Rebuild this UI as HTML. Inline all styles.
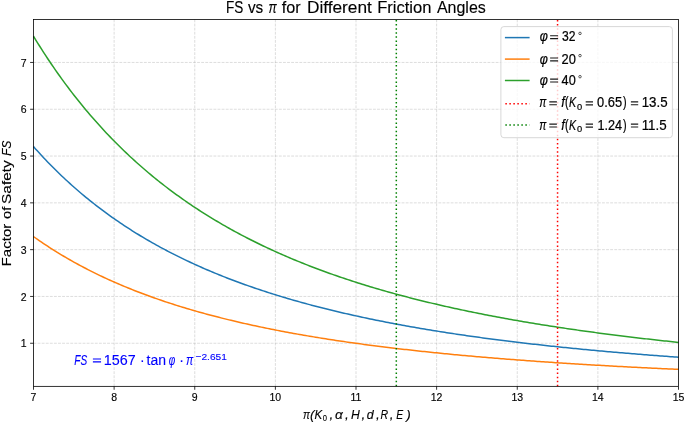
<!DOCTYPE html>
<html><head><meta charset="utf-8"><style>
html,body{margin:0;padding:0;background:#fff;}
svg{display:block;will-change:transform;}
text{font-family:"Liberation Sans",sans-serif;fill:#000;stroke:#000;stroke-width:0.22px;}
.tk{stroke-width:0.15px;}
.ti{stroke-width:0.12px;}
.lb{stroke-width:0.15px;}
.g{stroke:#b0b0b0;stroke-opacity:0.55;stroke-width:0.8;stroke-dasharray:2.85 1.24;}
</style></head><body>
<svg width="685" height="423" viewBox="0 0 685 423">
<line x1="114.12" y1="386.35" x2="114.12" y2="19.5" class="g"/>
<line x1="194.75" y1="386.35" x2="194.75" y2="19.5" class="g"/>
<line x1="275.38" y1="386.35" x2="275.38" y2="19.5" class="g"/>
<line x1="356.00" y1="386.35" x2="356.00" y2="19.5" class="g"/>
<line x1="436.62" y1="386.35" x2="436.62" y2="19.5" class="g"/>
<line x1="517.25" y1="386.35" x2="517.25" y2="19.5" class="g"/>
<line x1="597.88" y1="386.35" x2="597.88" y2="19.5" class="g"/>
<line x1="33.5" y1="343.25" x2="678.5" y2="343.25" class="g"/>
<line x1="33.5" y1="296.45" x2="678.5" y2="296.45" class="g"/>
<line x1="33.5" y1="249.65" x2="678.5" y2="249.65" class="g"/>
<line x1="33.5" y1="202.85" x2="678.5" y2="202.85" class="g"/>
<line x1="33.5" y1="156.05" x2="678.5" y2="156.05" class="g"/>
<line x1="33.5" y1="109.25" x2="678.5" y2="109.25" class="g"/>
<line x1="33.5" y1="62.45" x2="678.5" y2="62.45" class="g"/>
<polyline points="33.50,146.61 35.52,148.88 37.53,151.12 39.55,153.33 41.56,155.52 43.58,157.68 45.59,159.81 47.61,161.91 49.63,163.99 51.64,166.04 53.66,168.07 55.67,170.07 57.69,172.04 59.70,174.00 61.72,175.92 63.73,177.83 65.75,179.71 67.77,181.56 69.78,183.40 71.80,185.21 73.81,187.00 75.83,188.77 77.84,190.52 79.86,192.25 81.87,193.95 83.89,195.64 85.91,197.31 87.92,198.95 89.94,200.58 91.95,202.19 93.97,203.78 95.98,205.35 98.00,206.90 100.02,208.44 102.03,209.96 104.05,211.46 106.06,212.94 108.08,214.40 110.09,215.85 112.11,217.29 114.12,218.70 116.14,220.10 118.16,221.49 120.17,222.86 122.19,224.21 124.20,225.55 126.22,226.87 128.23,228.18 130.25,229.48 132.27,230.76 134.28,232.02 136.30,233.27 138.31,234.51 140.33,235.74 142.34,236.95 144.36,238.15 146.38,239.34 148.39,240.51 150.41,241.67 152.42,242.82 154.44,243.95 156.45,245.08 158.47,246.19 160.48,247.29 162.50,248.38 164.52,249.46 166.53,250.52 168.55,251.58 170.56,252.62 172.58,253.66 174.59,254.68 176.61,255.69 178.63,256.69 180.64,257.68 182.66,258.66 184.67,259.64 186.69,260.60 188.70,261.55 190.72,262.49 192.73,263.42 194.75,264.35 196.77,265.26 198.78,266.16 200.80,267.06 202.81,267.95 204.83,268.82 206.84,269.69 208.86,270.55 210.87,271.41 212.89,272.25 214.91,273.09 216.92,273.91 218.94,274.73 220.95,275.54 222.97,276.35 224.98,277.14 227.00,277.93 229.02,278.71 231.03,279.48 233.05,280.25 235.06,281.01 237.08,281.76 239.09,282.50 241.11,283.24 243.12,283.97 245.14,284.69 247.16,285.41 249.17,286.12 251.19,286.82 253.20,287.52 255.22,288.21 257.23,288.89 259.25,289.57 261.27,290.24 263.28,290.91 265.30,291.56 267.31,292.22 269.33,292.86 271.34,293.50 273.36,294.14 275.38,294.77 277.39,295.39 279.41,296.01 281.42,296.62 283.44,297.23 285.45,297.83 287.47,298.43 289.48,299.02 291.50,299.60 293.52,300.18 295.53,300.76 297.55,301.33 299.56,301.90 301.58,302.46 303.59,303.01 305.61,303.56 307.63,304.11 309.64,304.65 311.66,305.18 313.67,305.72 315.69,306.24 317.70,306.77 319.72,307.28 321.73,307.80 323.75,308.31 325.77,308.81 327.78,309.31 329.80,309.81 331.81,310.30 333.83,310.79 335.84,311.27 337.86,311.75 339.88,312.23 341.89,312.70 343.91,313.17 345.92,313.63 347.94,314.09 349.95,314.55 351.97,315.00 353.98,315.45 356.00,315.89 358.02,316.34 360.03,316.77 362.05,317.21 364.06,317.64 366.08,318.07 368.09,318.49 370.11,318.91 372.12,319.33 374.14,319.74 376.16,320.15 378.17,320.56 380.19,320.96 382.20,321.36 384.22,321.76 386.23,322.15 388.25,322.54 390.27,322.93 392.28,323.32 394.30,323.70 396.31,324.08 398.33,324.45 400.34,324.82 402.36,325.19 404.37,325.56 406.39,325.93 408.41,326.29 410.42,326.65 412.44,327.00 414.45,327.35 416.47,327.70 418.48,328.05 420.50,328.40 422.52,328.74 424.53,329.08 426.55,329.42 428.56,329.75 430.58,330.08 432.59,330.41 434.61,330.74 436.62,331.06 438.64,331.38 440.66,331.70 442.67,332.02 444.69,332.34 446.70,332.65 448.72,332.96 450.73,333.27 452.75,333.57 454.77,333.88 456.78,334.18 458.80,334.47 460.81,334.77 462.83,335.07 464.84,335.36 466.86,335.65 468.88,335.94 470.89,336.22 472.91,336.51 474.92,336.79 476.94,337.07 478.95,337.35 480.97,337.62 482.98,337.89 485.00,338.17 487.02,338.44 489.03,338.70 491.05,338.97 493.06,339.23 495.08,339.50 497.09,339.76 499.11,340.01 501.13,340.27 503.14,340.53 505.16,340.78 507.17,341.03 509.19,341.28 511.20,341.53 513.22,341.77 515.23,342.02 517.25,342.26 519.27,342.50 521.28,342.74 523.30,342.98 525.31,343.21 527.33,343.45 529.34,343.68 531.36,343.91 533.38,344.14 535.39,344.37 537.41,344.60 539.42,344.82 541.44,345.04 543.45,345.27 545.47,345.49 547.48,345.70 549.50,345.92 551.52,346.14 553.53,346.35 555.55,346.56 557.56,346.78 559.58,346.99 561.59,347.19 563.61,347.40 565.62,347.61 567.64,347.81 569.66,348.02 571.67,348.22 573.69,348.42 575.70,348.62 577.72,348.81 579.73,349.01 581.75,349.21 583.77,349.40 585.78,349.59 587.80,349.78 589.81,349.97 591.83,350.16 593.84,350.35 595.86,350.54 597.88,350.72 599.89,350.91 601.91,351.09 603.92,351.27 605.94,351.45 607.95,351.63 609.97,351.81 611.98,351.99 614.00,352.16 616.02,352.34 618.03,352.51 620.05,352.68 622.06,352.86 624.08,353.03 626.09,353.20 628.11,353.36 630.12,353.53 632.14,353.70 634.16,353.86 636.17,354.03 638.19,354.19 640.20,354.35 642.22,354.51 644.23,354.67 646.25,354.83 648.27,354.99 650.28,355.15 652.30,355.30 654.31,355.46 656.33,355.61 658.34,355.77 660.36,355.92 662.38,356.07 664.39,356.22 666.41,356.37 668.42,356.52 670.44,356.67 672.45,356.81 674.47,356.96 676.48,357.10 678.50,357.25" fill="none" stroke="#1f77b4" stroke-width="1.5" stroke-linejoin="round"/>
<polyline points="33.50,236.58 35.52,238.01 37.53,239.43 39.55,240.82 41.56,242.20 43.58,243.56 45.59,244.90 47.61,246.23 49.63,247.54 51.64,248.83 53.66,250.11 55.67,251.37 57.69,252.62 59.70,253.85 61.72,255.06 63.73,256.26 65.75,257.45 67.77,258.62 69.78,259.77 71.80,260.92 73.81,262.05 75.83,263.16 77.84,264.26 79.86,265.35 81.87,266.43 83.89,267.49 85.91,268.54 87.92,269.58 89.94,270.61 91.95,271.62 93.97,272.62 95.98,273.61 98.00,274.59 100.02,275.56 102.03,276.52 104.05,277.46 106.06,278.40 108.08,279.32 110.09,280.23 112.11,281.14 114.12,282.03 116.14,282.91 118.16,283.78 120.17,284.65 122.19,285.50 124.20,286.35 126.22,287.18 128.23,288.01 130.25,288.82 132.27,289.63 134.28,290.43 136.30,291.22 138.31,292.00 140.33,292.77 142.34,293.53 144.36,294.29 146.38,295.04 148.39,295.78 150.41,296.51 152.42,297.23 154.44,297.95 156.45,298.66 158.47,299.36 160.48,300.05 162.50,300.74 164.52,301.42 166.53,302.09 168.55,302.76 170.56,303.41 172.58,304.07 174.59,304.71 176.61,305.35 178.63,305.98 180.64,306.60 182.66,307.22 184.67,307.84 186.69,308.44 188.70,309.04 190.72,309.63 192.73,310.22 194.75,310.80 196.77,311.38 198.78,311.95 200.80,312.52 202.81,313.07 204.83,313.63 206.84,314.18 208.86,314.72 210.87,315.26 212.89,315.79 214.91,316.31 216.92,316.84 218.94,317.35 220.95,317.86 222.97,318.37 224.98,318.87 227.00,319.37 229.02,319.86 231.03,320.35 233.05,320.83 235.06,321.31 237.08,321.78 239.09,322.25 241.11,322.72 243.12,323.18 245.14,323.63 247.16,324.08 249.17,324.53 251.19,324.97 253.20,325.41 255.22,325.85 257.23,326.28 259.25,326.71 261.27,327.13 263.28,327.55 265.30,327.96 267.31,328.37 269.33,328.78 271.34,329.19 273.36,329.59 275.38,329.98 277.39,330.38 279.41,330.77 281.42,331.15 283.44,331.53 285.45,331.91 287.47,332.29 289.48,332.66 291.50,333.03 293.52,333.40 295.53,333.76 297.55,334.12 299.56,334.48 301.58,334.83 303.59,335.18 305.61,335.53 307.63,335.87 309.64,336.21 311.66,336.55 313.67,336.88 315.69,337.22 317.70,337.55 319.72,337.87 321.73,338.20 323.75,338.52 325.77,338.84 327.78,339.15 329.80,339.46 331.81,339.77 333.83,340.08 335.84,340.39 337.86,340.69 339.88,340.99 341.89,341.29 343.91,341.58 345.92,341.87 347.94,342.16 349.95,342.45 351.97,342.74 353.98,343.02 356.00,343.30 358.02,343.58 360.03,343.86 362.05,344.13 364.06,344.40 366.08,344.67 368.09,344.94 370.11,345.20 372.12,345.46 374.14,345.73 376.16,345.98 378.17,346.24 380.19,346.50 382.20,346.75 384.22,347.00 386.23,347.25 388.25,347.49 390.27,347.74 392.28,347.98 394.30,348.22 396.31,348.46 398.33,348.70 400.34,348.93 402.36,349.16 404.37,349.40 406.39,349.62 408.41,349.85 410.42,350.08 412.44,350.30 414.45,350.53 416.47,350.75 418.48,350.97 420.50,351.18 422.52,351.40 424.53,351.61 426.55,351.83 428.56,352.04 430.58,352.25 432.59,352.45 434.61,352.66 436.62,352.86 438.64,353.07 440.66,353.27 442.67,353.47 444.69,353.67 446.70,353.86 448.72,354.06 450.73,354.25 452.75,354.45 454.77,354.64 456.78,354.83 458.80,355.01 460.81,355.20 462.83,355.39 464.84,355.57 466.86,355.75 468.88,355.94 470.89,356.12 472.91,356.29 474.92,356.47 476.94,356.65 478.95,356.82 480.97,357.00 482.98,357.17 485.00,357.34 487.02,357.51 489.03,357.68 491.05,357.85 493.06,358.01 495.08,358.18 497.09,358.34 499.11,358.51 501.13,358.67 503.14,358.83 505.16,358.99 507.17,359.15 509.19,359.30 511.20,359.46 513.22,359.62 515.23,359.77 517.25,359.92 519.27,360.07 521.28,360.23 523.30,360.37 525.31,360.52 527.33,360.67 529.34,360.82 531.36,360.96 533.38,361.11 535.39,361.25 537.41,361.39 539.42,361.54 541.44,361.68 543.45,361.82 545.47,361.96 547.48,362.09 549.50,362.23 551.52,362.37 553.53,362.50 555.55,362.64 557.56,362.77 559.58,362.90 561.59,363.03 563.61,363.16 565.62,363.29 567.64,363.42 569.66,363.55 571.67,363.68 573.69,363.80 575.70,363.93 577.72,364.05 579.73,364.18 581.75,364.30 583.77,364.42 585.78,364.55 587.80,364.67 589.81,364.79 591.83,364.90 593.84,365.02 595.86,365.14 597.88,365.26 599.89,365.37 601.91,365.49 603.92,365.60 605.94,365.72 607.95,365.83 609.97,365.94 611.98,366.05 614.00,366.17 616.02,366.28 618.03,366.39 620.05,366.49 622.06,366.60 624.08,366.71 626.09,366.82 628.11,366.92 630.12,367.03 632.14,367.13 634.16,367.24 636.17,367.34 638.19,367.44 640.20,367.55 642.22,367.65 644.23,367.75 646.25,367.85 648.27,367.95 650.28,368.05 652.30,368.15 654.31,368.24 656.33,368.34 658.34,368.44 660.36,368.53 662.38,368.63 664.39,368.72 666.41,368.82 668.42,368.91 670.44,369.00 672.45,369.10 674.47,369.19 676.48,369.28 678.50,369.37" fill="none" stroke="#ff7f0e" stroke-width="1.5" stroke-linejoin="round"/>
<polyline points="33.50,36.24 35.52,39.54 37.53,42.80 39.55,46.02 41.56,49.19 43.58,52.33 45.59,55.43 47.61,58.48 49.63,61.50 51.64,64.48 53.66,67.43 55.67,70.34 57.69,73.21 59.70,76.04 61.72,78.85 63.73,81.61 65.75,84.35 67.77,87.05 69.78,89.71 71.80,92.35 73.81,94.95 75.83,97.52 77.84,100.06 79.86,102.57 81.87,105.05 83.89,107.50 85.91,109.93 87.92,112.32 89.94,114.68 91.95,117.02 93.97,119.33 95.98,121.61 98.00,123.87 100.02,126.10 102.03,128.31 104.05,130.49 106.06,132.64 108.08,134.77 110.09,136.88 112.11,138.96 114.12,141.02 116.14,143.05 118.16,145.07 120.17,147.06 122.19,149.02 124.20,150.97 126.22,152.89 128.23,154.80 130.25,156.68 132.27,158.54 134.28,160.38 136.30,162.20 138.31,164.00 140.33,165.78 142.34,167.54 144.36,169.28 146.38,171.01 148.39,172.71 150.41,174.40 152.42,176.07 154.44,177.72 156.45,179.35 158.47,180.97 160.48,182.57 162.50,184.15 164.52,185.72 166.53,187.27 168.55,188.80 170.56,190.32 172.58,191.82 174.59,193.31 176.61,194.78 178.63,196.23 180.64,197.67 182.66,199.10 184.67,200.51 186.69,201.91 188.70,203.29 190.72,204.66 192.73,206.01 194.75,207.36 196.77,208.68 198.78,210.00 200.80,211.30 202.81,212.59 204.83,213.87 206.84,215.13 208.86,216.38 210.87,217.62 212.89,218.84 214.91,220.06 216.92,221.26 218.94,222.45 220.95,223.63 222.97,224.80 224.98,225.95 227.00,227.10 229.02,228.23 231.03,229.36 233.05,230.47 235.06,231.57 237.08,232.66 239.09,233.75 241.11,234.82 243.12,235.88 245.14,236.93 247.16,237.97 249.17,239.00 251.19,240.02 253.20,241.03 255.22,242.04 257.23,243.03 259.25,244.02 261.27,244.99 263.28,245.96 265.30,246.91 267.31,247.86 269.33,248.80 271.34,249.73 273.36,250.66 275.38,251.57 277.39,252.48 279.41,253.38 281.42,254.27 283.44,255.15 285.45,256.02 287.47,256.89 289.48,257.75 291.50,258.60 293.52,259.44 295.53,260.28 297.55,261.11 299.56,261.93 301.58,262.74 303.59,263.55 305.61,264.35 307.63,265.14 309.64,265.93 311.66,266.71 313.67,267.48 315.69,268.25 317.70,269.01 319.72,269.76 321.73,270.51 323.75,271.25 325.77,271.98 327.78,272.71 329.80,273.43 331.81,274.15 333.83,274.85 335.84,275.56 337.86,276.25 339.88,276.95 341.89,277.63 343.91,278.31 345.92,278.99 347.94,279.65 349.95,280.32 351.97,280.98 353.98,281.63 356.00,282.27 358.02,282.92 360.03,283.55 362.05,284.18 364.06,284.81 366.08,285.43 368.09,286.05 370.11,286.66 372.12,287.26 374.14,287.86 376.16,288.46 378.17,289.05 380.19,289.64 382.20,290.22 384.22,290.80 386.23,291.37 388.25,291.94 390.27,292.50 392.28,293.06 394.30,293.62 396.31,294.17 398.33,294.71 400.34,295.25 402.36,295.79 404.37,296.32 406.39,296.85 408.41,297.38 410.42,297.90 412.44,298.42 414.45,298.93 416.47,299.44 418.48,299.94 420.50,300.45 422.52,300.94 424.53,301.44 426.55,301.93 428.56,302.41 430.58,302.89 432.59,303.37 434.61,303.85 436.62,304.32 438.64,304.79 440.66,305.25 442.67,305.71 444.69,306.17 446.70,306.62 448.72,307.08 450.73,307.52 452.75,307.97 454.77,308.41 456.78,308.84 458.80,309.28 460.81,309.71 462.83,310.14 464.84,310.56 466.86,310.98 468.88,311.40 470.89,311.82 472.91,312.23 474.92,312.64 476.94,313.05 478.95,313.45 480.97,313.85 482.98,314.25 485.00,314.64 487.02,315.04 489.03,315.43 491.05,315.81 493.06,316.20 495.08,316.58 497.09,316.95 499.11,317.33 501.13,317.70 503.14,318.07 505.16,318.44 507.17,318.81 509.19,319.17 511.20,319.53 513.22,319.89 515.23,320.24 517.25,320.59 519.27,320.94 521.28,321.29 523.30,321.64 525.31,321.98 527.33,322.32 529.34,322.66 531.36,322.99 533.38,323.33 535.39,323.66 537.41,323.99 539.42,324.31 541.44,324.64 543.45,324.96 545.47,325.28 547.48,325.60 549.50,325.91 551.52,326.23 553.53,326.54 555.55,326.85 557.56,327.16 559.58,327.46 561.59,327.77 563.61,328.07 565.62,328.37 567.64,328.66 569.66,328.96 571.67,329.25 573.69,329.54 575.70,329.83 577.72,330.12 579.73,330.41 581.75,330.69 583.77,330.97 585.78,331.25 587.80,331.53 589.81,331.81 591.83,332.08 593.84,332.35 595.86,332.62 597.88,332.89 599.89,333.16 601.91,333.43 603.92,333.69 605.94,333.95 607.95,334.21 609.97,334.47 611.98,334.73 614.00,334.99 616.02,335.24 618.03,335.49 620.05,335.74 622.06,335.99 624.08,336.24 626.09,336.49 628.11,336.73 630.12,336.98 632.14,337.22 634.16,337.46 636.17,337.70 638.19,337.93 640.20,338.17 642.22,338.40 644.23,338.63 646.25,338.87 648.27,339.10 650.28,339.32 652.30,339.55 654.31,339.78 656.33,340.00 658.34,340.22 660.36,340.45 662.38,340.67 664.39,340.88 666.41,341.10 668.42,341.32 670.44,341.53 672.45,341.75 674.47,341.96 676.48,342.17 678.50,342.38" fill="none" stroke="#2ca02c" stroke-width="1.5" stroke-linejoin="round"/>
<line x1="557.56" y1="386.35" x2="557.56" y2="19.5" stroke="#ff0000" stroke-width="1.5" stroke-dasharray="1.5 2.6"/>
<line x1="396.31" y1="386.35" x2="396.31" y2="19.5" stroke="#008000" stroke-width="1.5" stroke-dasharray="1.5 2.6"/>
<rect x="33.5" y="19.5" width="645.0" height="366.85" fill="none" stroke="#000" stroke-width="0.8"/>
<line x1="33.50" y1="386.35" x2="33.50" y2="389.75" stroke="#000" stroke-width="0.8"/>
<text x="33.50" y="401" font-size="10.5" text-anchor="middle" class="tk">7</text>
<line x1="114.12" y1="386.35" x2="114.12" y2="389.75" stroke="#000" stroke-width="0.8"/>
<text x="114.12" y="401" font-size="10.5" text-anchor="middle" class="tk">8</text>
<line x1="194.75" y1="386.35" x2="194.75" y2="389.75" stroke="#000" stroke-width="0.8"/>
<text x="194.75" y="401" font-size="10.5" text-anchor="middle" class="tk">9</text>
<line x1="275.38" y1="386.35" x2="275.38" y2="389.75" stroke="#000" stroke-width="0.8"/>
<text x="275.38" y="401" font-size="10.5" text-anchor="middle" class="tk">10</text>
<line x1="356.00" y1="386.35" x2="356.00" y2="389.75" stroke="#000" stroke-width="0.8"/>
<text x="356.00" y="401" font-size="10.5" text-anchor="middle" class="tk">11</text>
<line x1="436.62" y1="386.35" x2="436.62" y2="389.75" stroke="#000" stroke-width="0.8"/>
<text x="436.62" y="401" font-size="10.5" text-anchor="middle" class="tk">12</text>
<line x1="517.25" y1="386.35" x2="517.25" y2="389.75" stroke="#000" stroke-width="0.8"/>
<text x="517.25" y="401" font-size="10.5" text-anchor="middle" class="tk">13</text>
<line x1="597.88" y1="386.35" x2="597.88" y2="389.75" stroke="#000" stroke-width="0.8"/>
<text x="597.88" y="401" font-size="10.5" text-anchor="middle" class="tk">14</text>
<line x1="678.50" y1="386.35" x2="678.50" y2="389.75" stroke="#000" stroke-width="0.8"/>
<text x="678.50" y="401" font-size="10.5" text-anchor="middle" class="tk">15</text>
<line x1="30.10" y1="343.25" x2="33.5" y2="343.25" stroke="#000" stroke-width="0.8"/>
<text x="26.7" y="347.35" font-size="10.5" text-anchor="end" class="tk">1</text>
<line x1="30.10" y1="296.45" x2="33.5" y2="296.45" stroke="#000" stroke-width="0.8"/>
<text x="26.7" y="300.55" font-size="10.5" text-anchor="end" class="tk">2</text>
<line x1="30.10" y1="249.65" x2="33.5" y2="249.65" stroke="#000" stroke-width="0.8"/>
<text x="26.7" y="253.75" font-size="10.5" text-anchor="end" class="tk">3</text>
<line x1="30.10" y1="202.85" x2="33.5" y2="202.85" stroke="#000" stroke-width="0.8"/>
<text x="26.7" y="206.95" font-size="10.5" text-anchor="end" class="tk">4</text>
<line x1="30.10" y1="156.05" x2="33.5" y2="156.05" stroke="#000" stroke-width="0.8"/>
<text x="26.7" y="160.15" font-size="10.5" text-anchor="end" class="tk">5</text>
<line x1="30.10" y1="109.25" x2="33.5" y2="109.25" stroke="#000" stroke-width="0.8"/>
<text x="26.7" y="113.35" font-size="10.5" text-anchor="end" class="tk">6</text>
<line x1="30.10" y1="62.45" x2="33.5" y2="62.45" stroke="#000" stroke-width="0.8"/>
<text x="26.7" y="66.55" font-size="10.5" text-anchor="end" class="tk">7</text>
<rect x="500.9" y="26.6" width="171.5" height="111.1" rx="3" ry="3" fill="#fff" fill-opacity="0.8" stroke="#d6d6d6" stroke-width="0.95"/>
<line x1="504.9" y1="37.6" x2="529.6" y2="37.6" stroke="#1f77b4" stroke-width="1.5"/>
<line x1="504.9" y1="59.1" x2="529.6" y2="59.1" stroke="#ff7f0e" stroke-width="1.5"/>
<line x1="504.9" y1="80.5" x2="529.6" y2="80.5" stroke="#2ca02c" stroke-width="1.5"/>
<line x1="505.35" y1="103.7" x2="529.6" y2="103.7" stroke="#ff0000" stroke-width="1.5" stroke-dasharray="1.5 2.5"/>
<line x1="505.35" y1="125.0" x2="529.6" y2="125.0" stroke="#008000" stroke-width="1.5" stroke-dasharray="1.5 2.5"/>
<circle cx="580.0" cy="33.40" r="1.25" fill="none" stroke="#444" stroke-width="0.9"/>
<circle cx="580.0" cy="55.60" r="1.25" fill="none" stroke="#444" stroke-width="0.9"/>
<circle cx="580.0" cy="76.70" r="1.25" fill="none" stroke="#444" stroke-width="0.9"/>
<text x="226.05" y="12.6" font-size="16" textLength="17.33" lengthAdjust="spacingAndGlyphs" class="ti">FS</text>
<text x="247.90" y="12.6" font-size="16" textLength="15.30" lengthAdjust="spacingAndGlyphs" class="ti">vs</text>
<text x="268.43" y="12.6" font-size="16" font-style="italic" textLength="8.25" lengthAdjust="spacingAndGlyphs" class="ti">π</text>
<text x="281.80" y="12.6" font-size="16" textLength="18.87" lengthAdjust="spacingAndGlyphs" class="ti">for</text>
<text x="306.92" y="12.6" font-size="16" textLength="64.98" lengthAdjust="spacingAndGlyphs" class="ti">Different</text>
<text x="377.16" y="12.6" font-size="16" textLength="54.30" lengthAdjust="spacingAndGlyphs" class="ti">Friction</text>
<text x="436.90" y="12.6" font-size="16" class="ti">Angles</text>
<text x="302.90" y="418.9" font-size="13.5" font-style="italic" textLength="6.94" lengthAdjust="spacingAndGlyphs" class="lb">π</text>
<text x="310.00" y="418.9" font-size="13.5" font-style="italic" class="lb">(</text>
<text x="314.60" y="418.9" font-size="13.5" font-style="italic" textLength="7.71" lengthAdjust="spacingAndGlyphs" class="lb">K</text>
<text x="329.60" y="418.9" font-size="13.5" font-style="italic" class="lb">,</text>
<text x="335.00" y="418.9" font-size="13.5" font-style="italic" textLength="7.80" lengthAdjust="spacingAndGlyphs" class="lb">α</text>
<text x="344.90" y="418.9" font-size="13.5" font-style="italic" class="lb">,</text>
<text x="351.00" y="418.9" font-size="13.5" font-style="italic" textLength="8.78" lengthAdjust="spacingAndGlyphs" class="lb">H</text>
<text x="361.50" y="418.9" font-size="13.5" font-style="italic" class="lb">,</text>
<text x="366.80" y="418.9" font-size="13.5" font-style="italic" textLength="6.95" lengthAdjust="spacingAndGlyphs" class="lb">d</text>
<text x="376.00" y="418.9" font-size="13.5" font-style="italic" class="lb">,</text>
<text x="380.50" y="418.9" font-size="13.5" font-style="italic" textLength="7.61" lengthAdjust="spacingAndGlyphs" class="lb">R</text>
<text x="389.80" y="418.9" font-size="13.5" font-style="italic" class="lb">,</text>
<text x="396.20" y="418.9" font-size="13.5" font-style="italic" textLength="6.91" lengthAdjust="spacingAndGlyphs" class="lb">E</text>
<text x="406.20" y="418.9" font-size="13.5" font-style="italic" class="lb">)</text>
<text x="322.80" y="421.3" font-size="9.5" textLength="4.24" lengthAdjust="spacingAndGlyphs" class="lb">0</text>
<text transform="translate(11.3,270) rotate(-90)" x="3.64" y="0" font-size="13" textLength="42.68" lengthAdjust="spacingAndGlyphs" class="lb">Factor</text>
<text transform="translate(11.3,270) rotate(-90)" x="51.00" y="0" font-size="13" textLength="12.22" lengthAdjust="spacingAndGlyphs" class="lb">of</text>
<text transform="translate(11.3,270) rotate(-90)" x="66.12" y="0" font-size="13" textLength="43.51" lengthAdjust="spacingAndGlyphs" class="lb">Safety</text>
<text transform="translate(11.3,270) rotate(-90)" x="114.30" y="0" font-size="13" font-style="italic" textLength="14.96" lengthAdjust="spacingAndGlyphs" class="lb">FS</text>
<text x="74.30" y="365" font-size="14" font-style="italic" textLength="12.92" lengthAdjust="spacingAndGlyphs" style="fill:#0000ff;stroke:#0000ff;stroke-width:0.12px">FS</text>
<text x="103.78" y="365" font-size="14" textLength="31.88" lengthAdjust="spacingAndGlyphs" style="fill:#0000ff;stroke:#0000ff;stroke-width:0.12px">1567</text>
<text x="140.00" y="365" font-size="14" style="fill:#0000ff;stroke:#0000ff;stroke-width:0.12px">·</text>
<text x="146.50" y="365" font-size="14" style="fill:#0000ff;stroke:#0000ff;stroke-width:0.12px">tan</text>
<text x="168.70" y="365" font-size="14" font-style="italic" textLength="6.50" lengthAdjust="spacingAndGlyphs" style="fill:#0000ff;stroke:#0000ff;stroke-width:0.12px">φ</text>
<text x="179.20" y="365" font-size="14" style="fill:#0000ff;stroke:#0000ff;stroke-width:0.12px">·</text>
<text x="186.02" y="365" font-size="14" font-style="italic" textLength="7.30" lengthAdjust="spacingAndGlyphs" style="fill:#0000ff;stroke:#0000ff;stroke-width:0.12px">π</text>
<text x="195.50" y="360.2" font-size="9.5" textLength="31.35" lengthAdjust="spacingAndGlyphs" style="fill:#0000ff;stroke:#0000ff;stroke-width:0.12px">−2.651</text>
<text x="539.80" y="41.3" font-size="14" font-style="italic" textLength="8.12" lengthAdjust="spacingAndGlyphs">φ</text>
<text x="561.90" y="41.3" font-size="14" textLength="13.50" lengthAdjust="spacingAndGlyphs">32</text>
<text x="539.80" y="63.5" font-size="14" font-style="italic" textLength="8.12" lengthAdjust="spacingAndGlyphs">φ</text>
<text x="561.60" y="63.5" font-size="14" textLength="14.33" lengthAdjust="spacingAndGlyphs">20</text>
<text x="539.80" y="84.6" font-size="14" font-style="italic" textLength="8.12" lengthAdjust="spacingAndGlyphs">φ</text>
<text x="561.60" y="84.6" font-size="14" textLength="14.12" lengthAdjust="spacingAndGlyphs">40</text>
<text x="539.14" y="107.2" font-size="14" font-style="italic" textLength="7.10" lengthAdjust="spacingAndGlyphs">π</text>
<text x="561.20" y="107.2" font-size="14" font-style="italic" textLength="3.58" lengthAdjust="spacingAndGlyphs">f</text>
<text x="565.12" y="107.2" font-size="14" textLength="3.62" lengthAdjust="spacingAndGlyphs">(</text>
<text x="569.10" y="107.2" font-size="14" font-style="italic" textLength="7.10" lengthAdjust="spacingAndGlyphs">K</text>
<text x="577.00" y="109.5" font-size="9.5" textLength="5.19" lengthAdjust="spacingAndGlyphs">0</text>
<text x="597.00" y="107.2" font-size="14" textLength="25.03" lengthAdjust="spacingAndGlyphs">0.65</text>
<text x="623.00" y="107.2" font-size="14" textLength="3.62" lengthAdjust="spacingAndGlyphs">)</text>
<text x="641.65" y="107.2" font-size="14" textLength="25.89" lengthAdjust="spacingAndGlyphs">13.5</text>
<text x="539.14" y="129.5" font-size="14" font-style="italic" textLength="7.10" lengthAdjust="spacingAndGlyphs">π</text>
<text x="561.20" y="129.5" font-size="14" font-style="italic" textLength="3.58" lengthAdjust="spacingAndGlyphs">f</text>
<text x="565.12" y="129.5" font-size="14" textLength="3.62" lengthAdjust="spacingAndGlyphs">(</text>
<text x="569.10" y="129.5" font-size="14" font-style="italic" textLength="7.10" lengthAdjust="spacingAndGlyphs">K</text>
<text x="577.00" y="131.8" font-size="9.5" textLength="5.19" lengthAdjust="spacingAndGlyphs">0</text>
<text x="597.40" y="129.5" font-size="14" textLength="24.63" lengthAdjust="spacingAndGlyphs">1.24</text>
<text x="623.00" y="129.5" font-size="14" textLength="3.62" lengthAdjust="spacingAndGlyphs">)</text>
<text x="641.65" y="129.5" font-size="14" textLength="24.96" lengthAdjust="spacingAndGlyphs">11.5</text>
<path d="M92.90 359.00H101.05M92.90 361.90H101.05" stroke="#0000ff" stroke-width="1.15"/>
<path d="M550.10 35.75H558.10M550.10 38.65H558.10" stroke="#1a1a1a" stroke-width="1.15"/>
<path d="M550.10 57.95H558.10M550.10 60.85H558.10" stroke="#1a1a1a" stroke-width="1.15"/>
<path d="M550.10 79.05H558.10M550.10 81.95H558.10" stroke="#1a1a1a" stroke-width="1.15"/>
<path d="M549.30 101.80H556.90M549.30 104.70H556.90" stroke="#1a1a1a" stroke-width="1.15"/>
<path d="M585.70 101.85H593.00M585.70 104.80H593.00" stroke="#1a1a1a" stroke-width="1.15"/>
<path d="M630.90 101.80H638.20M630.90 104.70H638.20" stroke="#1a1a1a" stroke-width="1.15"/>
<path d="M549.30 124.10H556.90M549.30 127.00H556.90" stroke="#1a1a1a" stroke-width="1.15"/>
<path d="M585.70 124.15H593.00M585.70 127.10H593.00" stroke="#1a1a1a" stroke-width="1.15"/>
<path d="M630.90 124.10H638.20M630.90 127.00H638.20" stroke="#1a1a1a" stroke-width="1.15"/>
</svg>
</body></html>
